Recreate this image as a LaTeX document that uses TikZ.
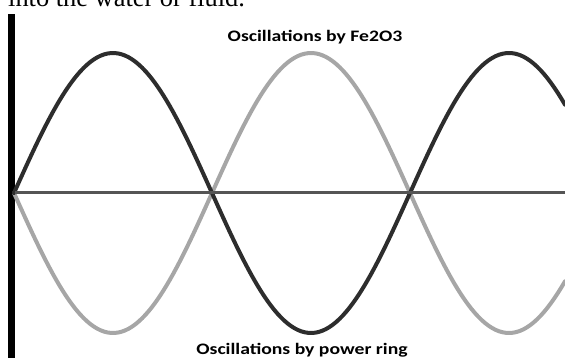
\documentclass[tikz,border=0pt]{standalone}
\usepackage{fontspec}
\setmainfont{Liberation Serif}
\newfontfamily\labelfont{Carlito}
\usepackage{tikz}
\usetikzlibrary{calc}

\definecolor{wavedark}{RGB}{45,45,45}
\definecolor{wavelight}{RGB}{166,166,166}
\definecolor{axisgray}{RGB}{85,85,85}

\begin{document}
\begin{tikzpicture}[x=1pt, y=-1pt, line cap=round, line join=round,
    wavetitle/.style={font=\labelfont\bfseries\fontsize{16}{18}\selectfont, inner sep=0pt, xscale=1.23}]
    \clip (0,0) rectangle (565,358);
    \useasboundingbox (0,0) rectangle (565,358);

    % --- 1. Text line cut off at the top ---
    \node[anchor=base west, inner sep=0pt, font=\fontsize{26.4}{30}\selectfont] (bodytext) at (8,7) {into the water or fluid.};

    % --- 2. Wall on the left ---
    \fill[black] (8,14) rectangle (15,358);

    % --- 3. Oscillations by power ring (light) ---
    \draw[wavelight, line width=4pt, domain=14:565, samples=160] plot (\x, {193+140*sin((\x-14)*0.90909)});

    % --- 4. Oscillations by Fe2O3 (dark) ---
    \draw[wavedark, line width=4pt, domain=14:565, samples=160] plot (\x, {193-140*sin((\x-14)*0.90909)});

    % --- 5. Axis ---
    \draw[axisgray, line width=3pt, line cap=butt] (15,193) -- (565,193);

    % Labels
    \node[wavetitle, anchor=north] (topwave) at (315,30) {Oscillations by Fe2O3};
    \node[wavetitle, anchor=south] (bottomwave) at (302,357) {Oscillations by power ring};
\end{tikzpicture}
\end{document}
